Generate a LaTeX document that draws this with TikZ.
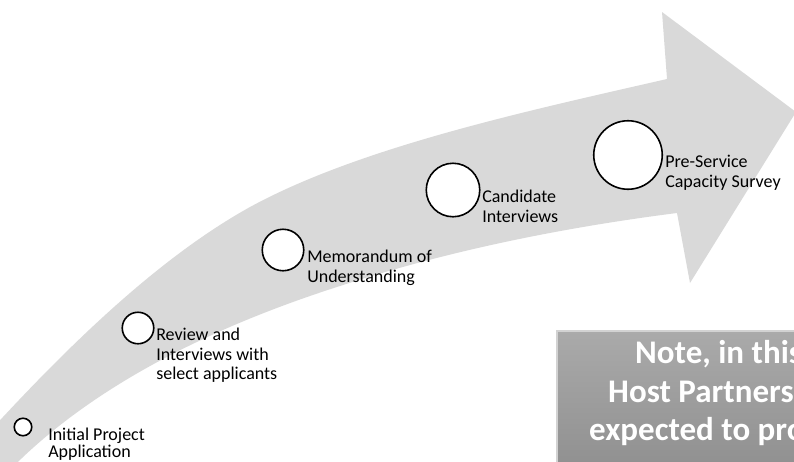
\documentclass[tikz,border=0pt]{standalone}
\usepackage{fontspec}
\setmainfont{Carlito}
\usetikzlibrary{positioning}
\definecolor{arrowgray}{RGB}{217,217,217}
\definecolor{notetop}{RGB}{170,170,170}
\definecolor{notebot}{RGB}{138,138,138}
\tikzset{
  stage/.style={circle, draw=black, line width=1.6pt, fill=white, inner sep=0pt},
  stagetext/.style={anchor=north west, align=left, inner sep=0pt, font=\fontsize{18}{19.5}\selectfont},
  notetext/.style={anchor=base west, inner sep=0pt, text=white, font=\fontsize{33}{39}\selectfont\bfseries}
}
\begin{document}
\begin{tikzpicture}[x=1pt,y=-1pt]
\useasboundingbox (0,0) rectangle (794,461);
% the curved arrow
\fill [arrowgray] (-20,442) .. controls (70,343) and (160,257) .. (250,207)
  .. controls (360,147) and (527,111) .. (667,79)
  -- (662,12) -- (796,112) -- (690,283) -- (677,213)
  .. controls (567,227) and (450,250) .. (340,286)
  .. controls (240,318) and (100,375) .. (5,475) -- cycle;
% stages
\node [stage, minimum size=17.5pt] (init) at (23,427) {};
\node [stage, minimum size=31.5pt] (review) at (138,328) {};
\node [stage, minimum size=41.5pt] (mou) at (283,250) {};
\node [stage, minimum size=53.5pt] (cand) at (453,190) {};
\node [stage, minimum size=68.5pt] (pre) at (628,155) {};
\node [right=15.5pt of init.east, stagetext, yshift=-1pt, font=\fontsize{18}{16.5}\selectfont] (initlbl) {Initial Project\\Application};
\node [right=1.5pt of review.east, stagetext] (reviewlbl) {Review and\\Interviews with\\select applicants};
\node [right=2.5pt of mou.east, stagetext] (moulbl) {Memorandum of\\Understanding};
\node [right=1.5pt of cand.east, stagetext] (candlbl) {Candidate\\Interviews};
\node [right=2pt of pre.east, stagetext] (prelbl) {Pre-Service\\Capacity Survey};
% note box
\draw [draw=gray!35, line width=1.2pt, top color=notetop, bottom color=notebot] (557,331) rectangle (830,500);
\node [notetext] (note1) at (635,363) {Note, in this};
\node [notetext] (note2) at (608,402) {Host Partners};
\node [notetext] (note3) at (589,440) {expected to pro};
\end{tikzpicture}
\end{document}
